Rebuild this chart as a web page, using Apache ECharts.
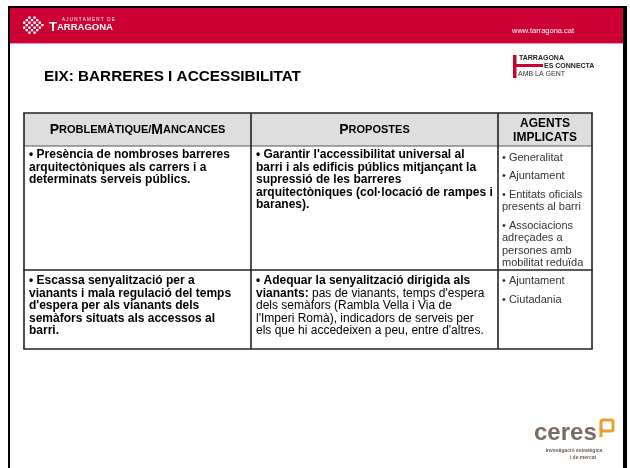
<!DOCTYPE html>
<html><head><meta charset="utf-8">
<script src="https://cdn.jsdelivr.net/npm/echarts@6/dist/echarts.min.js"></script>
<style>html,body{margin:0;padding:0;background:#fff}#c{width:630px;height:468px}</style>
</head><body><div id="c"></div>
<script>
// ---- content ----
const slideTitle = 'EIX: BARRERES I ACCESSIBILITAT';
const columnHeaders = ['PROBLEMÀTIQUE/MANCANCES', 'PROPOSTES', 'AGENTS|IMPLICATS'];
const problemes = [
  ['• Presència de nombroses barreres', 'arquitectòniques als carrers i a', 'determinats serveis públics.'],
  ['• Escassa senyalització per a', 'vianants i mala regulació del temps', "d'espera per als vianants dels", 'semàfors situats als accessos al', 'barri.']
];
// each line: list of [text, bold?]
const propostes = [
  [[["• Garantir l'accessibilitat universal al", true]], [['barri i als edificis públics mitjançant la', true]], [['supressió de les barreres', true]], [['arquitectòniques (col·locació de rampes i', true]], [['baranes).', true]]],
  [[['• Adequar la senyalització dirigida als', true]], [['vianants:', true], [" pas de vianants, temps d'espera", false]], [['dels semàfors (Rambla Vella i Via de', false]], [["l'Imperi Romà), indicadors de serveis per", false]], [["els que hi accedeixen a peu, entre d'altres.", false]]]
];
const agents = [
  [['• Generalitat'], ['• Ajuntament'], ['• Entitats oficials', 'presents al barri'], ['• Associacions', 'adreçades a', 'persones amb', 'mobilitat reduïda']],
  [['• Ajuntament'], ['• Ciutadania']]
];

// ---- layout ----
const FONT = '"Liberation Sans", Arial, Helvetica, sans-serif';
const RED = '#CC0033';
const colX = [24, 251, 498, 592];
const rowY = [113, 146, 270, 349];
const LH = 12.5;

const els = [];
// frame
els.push({type:'rect', shape:{x:8,y:6,width:619,height:2}, style:{fill:'#000'}});
els.push({type:'rect', shape:{x:8,y:6,width:2,height:462}, style:{fill:'#000'}});
els.push({type:'rect', shape:{x:623,y:6,width:4,height:462}, style:{fill:'#000'}});
// red header band
els.push({type:'rect', shape:{x:10,y:8,width:613,height:35}, style:{fill:RED}});
els.push({type:'rect', shape:{x:10,y:43,width:613,height:1}, style:{fill:'#EE99AA'}});
// tarragona icon (checker sphere)
for (let i=0;i<8;i++) for (let j=0;j<7;j++) {
  const cx = 23 + i*2.6, cy = 16.5 + j*2.5;
  const dx = cx+1.2-33.5, dy = cy+1.2-25;
  if (dx*dx/(10.5*10.5) + dy*dy/(9*9) <= 1 && (i+j)%2===0)
    els.push({type:'rect', shape:{x:cx,y:cy,width:2.4,height:2.3}, style:{fill:'#fff'}});
}
els.push({type:'text', style:{x:62,y:20,text:'A J U N T A M E N T   D E',font:'4.5px '+FONT,fill:'#fff',textVerticalAlign:'middle'}});
els.push({type:'text', style:{x:49,y:27.5,text:'{a|T}{b|ARRAGONA}',textVerticalAlign:'middle',
  rich:{a:{font:'bold 13px '+FONT,fill:'#fff'},b:{font:'bold 9.5px '+FONT,fill:'#fff'}}}});
els.push({type:'text', style:{x:512,y:31,text:'www.tarragona.cat',font:'7.5px '+FONT,fill:'#fff',textVerticalAlign:'middle'}});
// tarragona es connecta logo
els.push({type:'rect', shape:{x:513,y:55,width:3.5,height:23}, style:{fill:RED}});
els.push({type:'rect', shape:{x:516,y:64,width:27,height:3}, style:{fill:RED}});
els.push({type:'text', style:{x:519,y:58,text:'TARRAGONA',font:'bold 7px '+FONT,fill:'#222',textVerticalAlign:'middle'}});
els.push({type:'text', style:{x:544,y:66,text:'ES CONNECTA',font:'bold 7px '+FONT,fill:'#222',textVerticalAlign:'middle'}});
els.push({type:'text', style:{x:518,y:74,text:'AMB LA GENT',font:'7px '+FONT,fill:'#333',textVerticalAlign:'middle'}});
// title
els.push({type:'text', style:{x:44,y:77,text:slideTitle,font:'bold 15.3px '+FONT,fill:'#000',textVerticalAlign:'middle'}});

// table header fill
els.push({type:'rect', shape:{x:colX[0],y:rowY[0],width:colX[3]-colX[0],height:rowY[1]-rowY[0]}, style:{fill:'#DEDEDE'}});
// header texts
function smallCaps(s){
  let out='', start=true;
  for (const ch of s){
    if (ch==='/'||ch===' '){ out+='{s|'+ch+'}'; start=true; continue; }
    out += start ? '{p|'+ch+'}' : '{s|'+ch+'}';
    start=false;
  }
  return out;
}
const hdrRich = {p:{font:'bold 14px '+FONT,fill:'#000'}, s:{font:'bold 11px '+FONT,fill:'#000'}};
for (let c=0;c<2;c++){
  els.push({type:'text', style:{x:(colX[c]+colX[c+1])/2, y:130, text:smallCaps(columnHeaders[c]), rich:hdrRich, font:'bold 11px '+FONT, textAlign:'center', textVerticalAlign:'middle'}});
}
columnHeaders[2].split('|').forEach((t,k)=>{
  els.push({type:'text', style:{x:(colX[2]+colX[3])/2, y:123.5+k*14, text:t, font:'bold 12px '+FONT, fill:'#000', textAlign:'center', textVerticalAlign:'middle'}});
});

// body cells
const firstLine = [155, 281];
problemes.forEach((lines,r)=>{
  lines.forEach((t,k)=>{
    els.push({type:'text', style:{x:colX[0]+5, y:firstLine[r]+k*LH, text:t, font:'bold 12px '+FONT, fill:'#000', textVerticalAlign:'middle'}});
  });
});
const bodyRich = {b:{font:'bold 12px '+FONT,fill:'#000'}, r:{font:'12px '+FONT,fill:'#000'}};
propostes.forEach((lines,r)=>{
  lines.forEach((segs,k)=>{
    const txt = segs.map(s=>'{'+(s[1]?'b':'r')+'|'+s[0]+'}').join('');
    els.push({type:'text', style:{x:colX[1]+5, y:firstLine[r]+k*LH, text:txt, rich:bodyRich, textVerticalAlign:'middle'}});
  });
});
const agentFirst = [157.5, 281];
agents.forEach((paras,r)=>{
  let y = agentFirst[r];
  paras.forEach(lines=>{
    lines.forEach((t,k)=>{
      els.push({type:'text', style:{x:colX[2]+4, y:y, text:t, font:'11px '+FONT, fill:'#333', textVerticalAlign:'middle'}});
      y += (k<lines.length-1) ? 12.2 : 0;
    });
    y += 18.8;
  });
});

// grid lines
const LW = 1.6, LC = '#222';
rowY.forEach((y,i)=>{
  els.push({type:'line', shape:{x1:colX[0]-0.8,y1:y,x2:colX[3]+0.8,y2:y}, style:{stroke: i===1?'#555':LC, lineWidth: i===1?1.2:LW}});
});
colX.forEach(x=>{
  els.push({type:'line', shape:{x1:x,y1:rowY[0],x2:x,y2:rowY[3]}, style:{stroke:LC, lineWidth:LW}});
});

// ceres logo
els.push({type:'text', style:{x:534,y:433,text:'ceres',font:'bold 24px '+FONT,fill:'#7A6C60',textVerticalAlign:'middle'}});
els.push({type:'rect', shape:{x:601,y:420,width:12,height:11,r:2}, style:{fill:'none',stroke:'#E8A030',lineWidth:3}});
els.push({type:'rect', shape:{x:599.5,y:428,width:3,height:9}, style:{fill:'#E8A030'}});
els.push({type:'text', style:{x:574,y:450.5,text:'investigació estratègica',font:'bold 5px '+FONT,fill:'#6A5C50',textAlign:'center',textVerticalAlign:'middle'}});
els.push({type:'text', style:{x:583,y:457.5,text:'i de mercat',font:'bold 5px '+FONT,fill:'#6A5C50',textAlign:'center',textVerticalAlign:'middle'}});

const chart = echarts.init(document.getElementById('c'), null, {renderer:'canvas'});
chart.setOption({animation:false, backgroundColor:'#fff', graphic:{elements:els}});
</script></body></html>
